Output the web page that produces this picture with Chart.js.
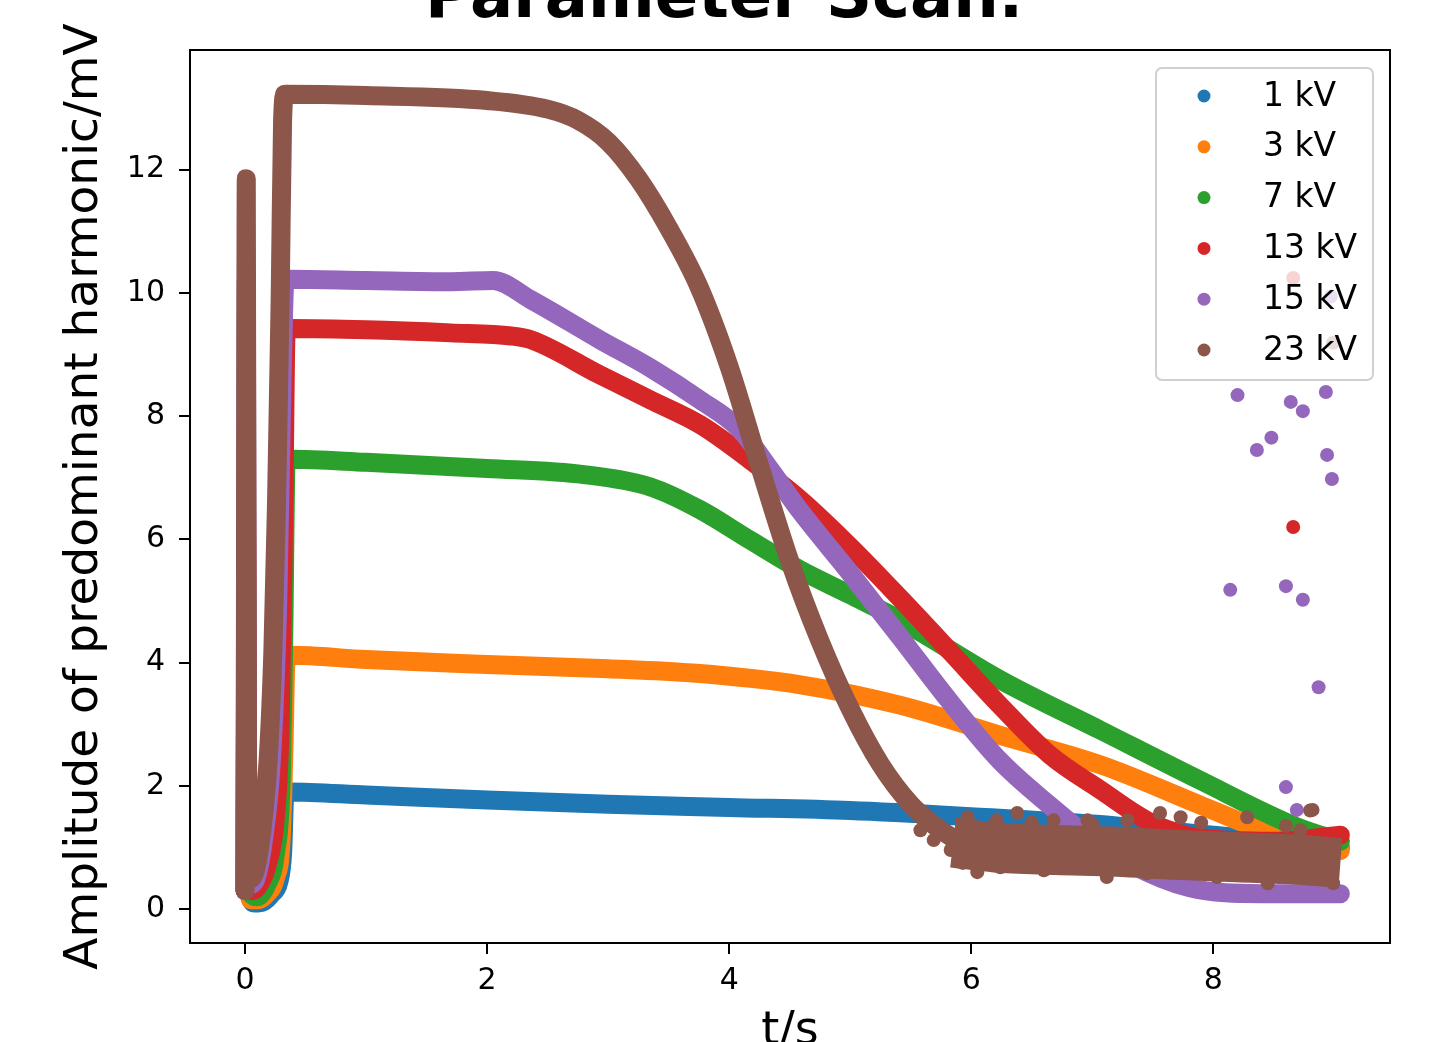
<!DOCTYPE html>
<html>
<head>
<meta charset="utf-8">
<script src="https://cdn.jsdelivr.net/npm/chart.js@4.4.1/dist/chart.umd.min.js"></script>
<style>
  html, body { margin: 0; padding: 0; background: #fff; overflow: hidden; }
  #wrap { position: relative; width: 1430px; height: 1042px; overflow: hidden; }
  #c { position: absolute; left: 0; top: -60px; width: 1430px; height: 1140px; }
</style>
</head>
<body>
<div id="wrap"><canvas id="c" width="1430" height="1140"></canvas></div>
<script>
// series labels + matplotlib tab10 colours
const labels = ['1 kV', '3 kV', '7 kV', '13 kV', '15 kV', '23 kV'];
const colors = ['#1f77b4', '#ff7f0e', '#2ca02c', '#d62728', '#9467bd', '#8c564b'];
const xTicks = [0, 2, 4, 6, 8];
const yTicks = [0, 2, 4, 6, 8, 10, 12];

// 1 kV
const t1kV = [0.00, 0.01, 0.02, 0.04, 0.08, 0.15, 0.22, 0.28, 0.31, 0.33, 0.36, 1.0, 2.0, 3.0, 4.0, 5.0, 6.0, 7.0, 8.0, 9.05];
const v1kV = [0.3, 6.0, 1.5, 0.2, 0.1, 0.12, 0.25, 0.45, 0.9, 1.9, 1.9, 1.85, 1.77, 1.7, 1.65, 1.6, 1.5, 1.38, 1.2, 1.0];
// 3 kV
const t3kV = [0.00, 0.01, 0.02, 0.05, 0.1, 0.18, 0.25, 0.3, 0.32, 0.34, 0.37, 1.0, 2.0, 3.0, 3.7, 4.59, 5.41, 6.24, 7.07, 7.89, 8.3, 8.7, 9.05];
const v3kV = [0.3, 5.5, 1.2, 0.15, 0.15, 0.25, 0.5, 1.2, 2.5, 4.1, 4.12, 4.05, 3.97, 3.9, 3.83, 3.64, 3.31, 2.82, 2.34, 1.69, 1.36, 1.1, 0.95];
// 7 kV
const t7kV = [0.0, 0.01, 0.02, 0.05, 0.1, 0.18, 0.25, 0.3, 0.32, 0.34, 0.37, 1.0, 2.0, 2.8, 3.35, 3.76, 4.17, 4.59, 5.0, 5.41, 6.24, 7.07, 7.89, 8.72, 9.05];
const v7kV = [0.3, 7.0, 1.5, 0.25, 0.2, 0.4, 0.9, 2.2, 4.5, 7.3, 7.3, 7.25, 7.15, 7.05, 6.85, 6.48, 5.99, 5.5, 5.1, 4.69, 3.72, 2.9, 2.09, 1.31, 1.1];
// 13 kV
const t13kV = [0.0, 0.01, 0.02, 0.05, 0.1, 0.18, 0.25, 0.29, 0.32, 0.34, 0.37, 1.0, 1.7, 2.2, 2.36, 2.93, 3.35, 3.76, 4.17, 4.59, 5.0, 5.41, 5.83, 6.24, 6.65, 7.07, 7.48, 7.9, 8.5, 9.05];
const v13kV = [0.3, 7.6, 1.8, 0.3, 0.35, 0.7, 1.5, 3.0, 6.5, 9.4, 9.42, 9.4, 9.35, 9.3, 9.24, 8.67, 8.26, 7.86, 7.29, 6.64, 5.88, 5.05, 4.17, 3.3, 2.5, 1.93, 1.41, 1.15, 1.1, 1.2];
// 15 kV
const t15kV = [0.0, 0.01, 0.02, 0.04, 0.08, 0.15, 0.22, 0.27, 0.31, 0.33, 0.36, 1.0, 1.7, 2.05, 2.36, 2.93, 3.35, 3.76, 4.09, 4.34, 4.59, 5.0, 5.41, 5.83, 6.24, 6.65, 6.9, 7.3, 7.8, 8.4, 9.05];
const v15kV = [0.3, 10.2, 2.0, 0.4, 0.45, 1.1, 2.5, 5.0, 9.0, 10.2, 10.22, 10.2, 10.18, 10.2, 9.89, 9.24, 8.78, 8.26, 7.78, 7.13, 6.45, 5.45, 4.42, 3.35, 2.4, 1.68, 1.28, 0.75, 0.35, 0.25, 0.25];
// 23 kV
const t23kV = [0.0, 0.01, 0.02, 0.05, 0.12, 0.19, 0.23, 0.26, 0.29, 0.31, 0.33, 1.0, 2.0, 2.5, 2.75, 3.0, 3.25, 3.5, 3.75, 4.0, 4.25, 4.5, 4.75, 5.0, 5.25, 5.5, 5.7, 5.85];
const v23kV = [0.3, 11.85, 2.5, 0.5, 1.0, 2.4, 4.2, 6.6, 9.9, 12.8, 13.22, 13.2, 13.12, 12.98, 12.8, 12.45, 11.85, 11.05, 10.1, 8.8, 7.2, 5.65, 4.35, 3.25, 2.35, 1.7, 1.35, 1.15];
// 23 kV noisy tail (wide band)
const tail23T = [5.85, 6.2, 6.7, 7.2, 7.7, 8.2, 8.7, 9.05];
const tail23V = [1.08, 1.0, 0.96, 0.93, 0.88, 0.84, 0.8, 0.75];

// stray points
const dots13T = [8.66, 8.66];
const dots13V = [6.2, 10.24];
const dots15T = [8.2, 8.36, 8.48, 8.64, 8.74, 8.93, 8.94, 8.98, 8.14, 8.6, 8.74, 8.87, 8.6, 8.69, 8.97];
const dots15V = [8.34, 7.45, 7.65, 8.23, 8.08, 8.39, 7.37, 6.98, 5.18, 5.24, 5.02, 3.6, 1.98, 1.61, 9.94];
const dots23T = [5.58, 5.69, 5.83, 5.93, 5.97, 6.21, 6.24, 6.38, 6.6, 6.68, 6.84, 6.96, 7.12, 7.29, 7.34, 7.56, 7.62, 7.73, 8.03, 8.28, 8.45, 8.72, 8.8, 8.82, 8.99, 8.99, 6.05, 6.5, 7.0, 7.45, 7.9, 8.6];
const dots23V = [1.28, 1.12, 0.96, 0.75, 1.49, 1.44, 0.68, 1.56, 0.63, 1.44, 0.8, 1.44, 0.52, 1.44, 0.68, 1.56, 0.63, 1.49, 0.52, 1.49, 0.42, 1.28, 1.6, 1.61, 0.42, 9.19, 0.6, 1.4, 1.38, 0.58, 1.4, 1.35];

function pts(t, v) { return t.map((x, i) => ({ x: x, y: v[i] })); }

const series = [
  { t: t1kV, v: v1kV, bt: [], bv: [], dt: [], dv: [] },
  { t: t3kV, v: v3kV, bt: [], bv: [], dt: [], dv: [] },
  { t: t7kV, v: v7kV, bt: [], bv: [], dt: [], dv: [] },
  { t: t13kV, v: v13kV, bt: [], bv: [], dt: dots13T, dv: dots13V },
  { t: t15kV, v: v15kV, bt: [], bv: [], dt: dots15T, dv: dots15V },
  { t: t23kV, v: v23kV, bt: tail23T, bv: tail23V, dt: dots23T, dv: dots23V }
];

const datasets = [];
series.forEach((s, i) => {
  const base = (5 - i) * 10;   // later series drawn on top, like matplotlib
  datasets.push({
    label: labels[i], data: pts(s.t, s.v), showLine: true,
    borderColor: colors[i], backgroundColor: colors[i], borderWidth: 19,
    borderCapStyle: 'round', borderJoinStyle: 'round',
    cubicInterpolationMode: 'monotone', pointRadius: 0, order: base + 5
  });
  if (s.bt.length) {
    datasets.push({
      label: labels[i] + ' tail', data: pts(s.bt, s.bv), showLine: true,
      borderColor: colors[i], borderWidth: 50, borderCapStyle: 'butt', borderJoinStyle: 'round',
      cubicInterpolationMode: 'monotone', pointRadius: 0, order: base + 4
    });
  }
  if (s.dt.length) {
    datasets.push({
      label: labels[i] + ' pts', data: pts(s.dt, s.dv), showLine: false,
      backgroundColor: colors[i], borderWidth: 0, pointRadius: 7, order: base + 3
    });
  }
});

const framePlugin = {
  id: 'frame',
  afterDatasetsDraw(chart) {
    const { ctx, chartArea: a } = chart;
    ctx.save();
    ctx.strokeStyle = '#000';
    ctx.lineWidth = 2;
    ctx.strokeRect(a.left, a.top, a.right - a.left, a.bottom - a.top);
    ctx.restore();
  }
};

// matplotlib-like legend box in the upper right corner
const legendPlugin = {
  id: 'mplLegend',
  afterDraw(chart) {
    const { ctx, chartArea: a } = chart;
    const w = 217, h = 312;
    const x0 = a.right - 17 - w, y0 = a.top + 18;
    ctx.save();
    ctx.beginPath();
    ctx.roundRect(x0, y0, w, h, 6);
    ctx.fillStyle = 'rgba(255,255,255,0.8)';
    ctx.fill();
    ctx.strokeStyle = '#d0d0d0';
    ctx.lineWidth = 2;
    ctx.stroke();
    ctx.font = '33px "DejaVu Sans"';
    ctx.textBaseline = 'middle';
    ctx.textAlign = 'left';
    labels.forEach((lab, i) => {
      const y = y0 + 28 + i * 50.8;
      ctx.beginPath();
      ctx.arc(x0 + 48, y, 6.5, 0, Math.PI * 2);
      ctx.fillStyle = colors[i];
      ctx.fill();
      ctx.fillStyle = '#000';
      ctx.fillText(lab, x0 + 107, y + 1);
    });
    ctx.restore();
  }
};

new Chart(document.getElementById('c'), {
  type: 'scatter',
  data: { datasets: datasets },
  options: {
    responsive: false,
    animation: false,
    layout: { padding: { left: 58, right: 40, top: 0, bottom: 0 } },
    plugins: {
      legend: { display: false },
      tooltip: { enabled: false },
      title: {
        display: true, text: 'Parameter Scan.', color: '#000',
        font: { family: 'DejaVu Sans', size: 64, weight: 'bold' },
        padding: { top: 21.6, bottom: 11.6 }
      }
    },
    scales: {
      x: {
        type: 'linear', min: -0.455, max: 9.46,
        afterFit(s) { s.height = 137; },
        afterBuildTicks(s) { s.ticks = xTicks.map(v => ({ value: v })); },
        border: { display: false },
        grid: { drawOnChartArea: false, drawTicks: true, tickLength: 11, color: '#000', lineWidth: 2 },
        ticks: { color: '#000', font: { family: 'DejaVu Sans', size: 30 }, padding: 9, maxRotation: 0 },
        title: {
          display: true, text: 't/s', color: '#000',
          font: { family: 'DejaVu Sans', size: 46 }, padding: { top: 0, bottom: 20 }
        }
      },
      y: {
        type: 'linear', min: -0.55, max: 13.94,
        afterFit(s) { s.width = 132; },
        afterBuildTicks(s) { s.ticks = yTicks.map(v => ({ value: v })); },
        border: { display: false },
        grid: { drawOnChartArea: false, drawTicks: true, tickLength: 11, color: '#000', lineWidth: 2 },
        ticks: { color: '#000', font: { family: 'DejaVu Sans', size: 30 }, padding: 14 },
        title: {
          display: true, text: 'Amplitude of predominant harmonic/mV', color: '#000',
          font: { family: 'DejaVu Sans', size: 47 }, padding: { top: -1, bottom: 0 }
        }
      }
    }
  },
  plugins: [framePlugin, legendPlugin]
});
</script>
</body>
</html>
